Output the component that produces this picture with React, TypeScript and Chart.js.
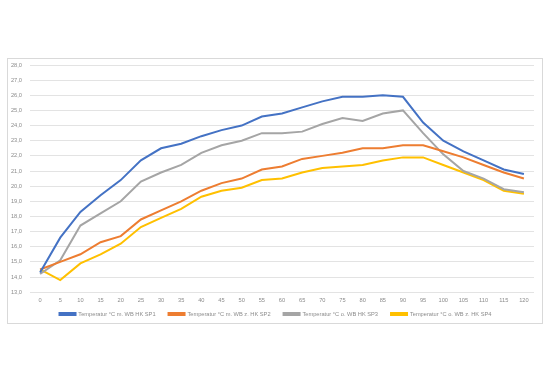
import React, { useEffect, useRef } from "react";
import { Chart, registerables } from "chart.js";

Chart.register(...registerables);

const xLabels = ["0","5","10","15","20","25","30","35","40","45","50","55","60","65","70","75","80","85","90","95","100","105","110","115","120"];
const sp1 = [14.3,16.6,18.3,19.4,20.4,21.7,22.5,22.8,23.3,23.7,24.0,24.6,24.8,25.2,25.6,25.9,25.9,26.0,25.9,24.2,23.0,22.3,21.7,21.1,20.8];
const sp2 = [14.5,15.0,15.5,16.3,16.7,17.8,18.4,19.0,19.7,20.2,20.5,21.1,21.3,21.8,22.0,22.2,22.5,22.5,22.7,22.7,22.3,21.9,21.4,20.9,20.5];
const sp3 = [14.2,15.1,17.4,18.2,19.0,20.3,20.9,21.4,22.2,22.7,23.0,23.5,23.5,23.6,24.1,24.5,24.3,24.8,25.0,23.5,22.1,21.0,20.5,19.8,19.6];
const sp4 = [14.5,13.8,14.9,15.5,16.2,17.3,17.9,18.5,19.3,19.7,19.9,20.4,20.5,20.9,21.2,21.3,21.4,21.7,21.9,21.9,21.4,20.9,20.4,19.7,19.5];
const seriesNames = [
  "Temperatur °C m. WB HK SP1",
  "Temperatur °C m. WB z. HK SP2",
  "Temperatur °C o. WB HK SP3",
  "Temperatur °C o. WB z. HK SP4",
];
const seriesColors = ["#4472C4", "#ED7D31", "#A5A5A5", "#FFC000"];

const FONT = { family: "'Liberation Sans', Arial, sans-serif", size: 5.7 };
const LEGEND_PAD = 13;

export default function App() {
  const ref = useRef<HTMLCanvasElement | null>(null);
  useEffect(() => {
    if (!ref.current) return;
    const data = [sp1, sp2, sp3, sp4];
    const legendShift = {
      id: "legendShift",
      afterLayout(chart: any) {
        const lg = chart.legend;
        if (!lg) return;
        const top = 255 - LEGEND_PAD - FONT.size / 2;
        const h = lg.bottom - lg.top;
        lg.top = top;
        lg.bottom = top + h;
        lg.left += 4.5;
        lg.right += 4.5;
      },
    };
    const chart = new Chart(ref.current, {
      type: "line",
      data: {
        labels: xLabels,
        datasets: data.map((d, i) => ({
          label: seriesNames[i],
          data: d,
          borderColor: seriesColors[i],
          backgroundColor: seriesColors[i],
          borderWidth: 2,
          pointRadius: 0,
          tension: 0,
          fill: false,
        })),
      },
      plugins: [legendShift],
      options: {
        responsive: false,
        animation: false,
        layout: { padding: { left: 0, right: 8, top: 6, bottom: 1.3 } },
        plugins: {
          tooltip: { enabled: false },
          legend: {
            position: "bottom",
            labels: {
              boxWidth: 16,
              boxHeight: 2,
              padding: LEGEND_PAD,
              color: "#8c8c8c",
              font: FONT,
            },
          },
        },
        scales: {
          x: {
            type: "category",
            offset: true,
            grid: { display: false, drawTicks: false },
            border: { display: false },
            ticks: {
              color: "#8c8c8c",
              font: FONT,
              padding: 5,
              maxRotation: 0,
              autoSkip: false,
            },
          },
          y: {
            min: 13,
            max: 28,
            grid: { color: "#e3e3e3", lineWidth: 1, drawTicks: false },
            border: { display: false },
            ticks: {
              stepSize: 1,
              color: "#8c8c8c",
              font: FONT,
              padding: 8,
              callback: (v: any) => Number(v).toFixed(1).replace(".", ","),
            },
            afterFit: (s: any) => { s.width = 22; s.paddingTop = 0; },
          },
        },
      },
    });
    return () => chart.destroy();
  }, []);
  return (
    <>
      <div
        style={{
          position: "absolute",
          left: 7,
          top: 58,
          width: 536,
          height: 266,
          boxSizing: "border-box",
          border: "1px solid #d9d9d9",
          background: "#fff",
        }}
      />
      <canvas
        ref={ref}
        width={534}
        height={280}
        style={{ position: "absolute", left: 8, top: 59, width: 534, height: 280 }}
      />
    </>
  );
}
